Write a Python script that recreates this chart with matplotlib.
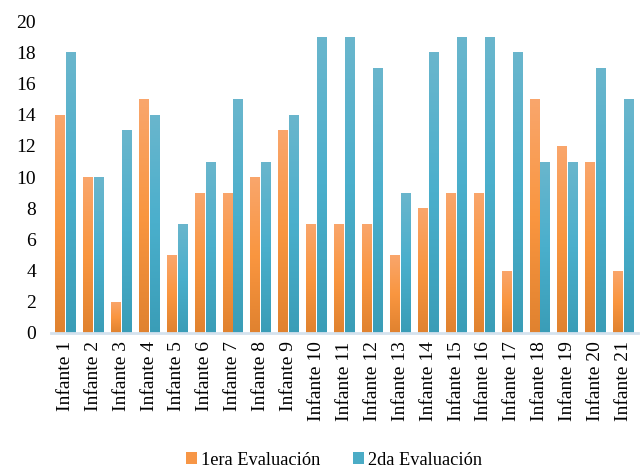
import numpy as np
import matplotlib.pyplot as plt
from matplotlib.colors import LinearSegmentedColormap
from matplotlib.patches import Patch

plt.rcParams['font.family'] = ['Liberation Serif', 'DejaVu Serif']

infantes = [f"Infante {i}" for i in range(1, 22)]
eval1 = [14, 10, 2, 15, 5, 9, 9, 10, 13, 7, 7, 7, 5, 8, 9, 9, 4, 15, 12, 11, 4]
eval2 = [18, 10, 13, 14, 7, 11, 15, 11, 14, 19, 19, 17, 9, 18, 19, 19, 18, 11, 11, 17, 15]

# gradiente: abajo oscuro, medio saturado, arriba claro
cmap_nar = LinearSegmentedColormap.from_list("nar", ["#E0822F", "#FA9640", "#F9A66C"])
cmap_azul = LinearSegmentedColormap.from_list("azul", ["#3A9DB7", "#4AAFCC", "#6AB6CD"])

fig = plt.figure(figsize=(6.42, 4.71), dpi=100)
ax = fig.add_axes([0.080, 0.293, 0.913, 0.662])

x = np.arange(len(infantes))
w = 0.345
grad = np.linspace(0, 1, 256).reshape(-1, 1)


def barras_gradiente(pos, vals, cmap):
    bars = ax.bar(pos, vals, w, color='none', edgecolor='none')
    for b in bars:
        x0, y0 = b.get_x(), b.get_y()
        im = ax.imshow(grad, cmap=cmap, origin='lower', aspect='auto',
                       extent=[x0, x0 + b.get_width(), y0, y0 + b.get_height()],
                       zorder=2)
        im.set_clip_path(b)
    return bars


barras_gradiente(x - 0.195, eval1, cmap_nar)
barras_gradiente(x + 0.195, eval2, cmap_azul)

ax.set_xlim(-0.5, len(infantes) - 0.5)
ax.set_ylim(0, 20)
ax.set_yticks(range(0, 21, 2))
ax.set_xticks(x)
ax.set_xticklabels(infantes, rotation=90, fontsize=14)
ax.tick_params(axis='y', labelsize=14, length=0, pad=11)
ax.tick_params(axis='x', length=0, pad=6)
for s in ['top', 'right', 'left']:
    ax.spines[s].set_visible(False)
ax.spines['bottom'].set_color('#D5E2EE')
ax.spines['bottom'].set_linewidth(2)
ax.spines['bottom'].set_zorder(3)

handles = [Patch(facecolor='#F79646', label='1era Evaluación'),
           Patch(facecolor='#4BACC6', label='2da Evaluación')]
fig.legend(handles=handles, loc='center', bbox_to_anchor=(0.52, 0.023), ncol=2,
           frameon=False, fontsize=13.2, handlelength=0.6, handleheight=0.6,
           handletextpad=0.2, columnspacing=1.8)

fig.savefig("out.png", dpi=100)
